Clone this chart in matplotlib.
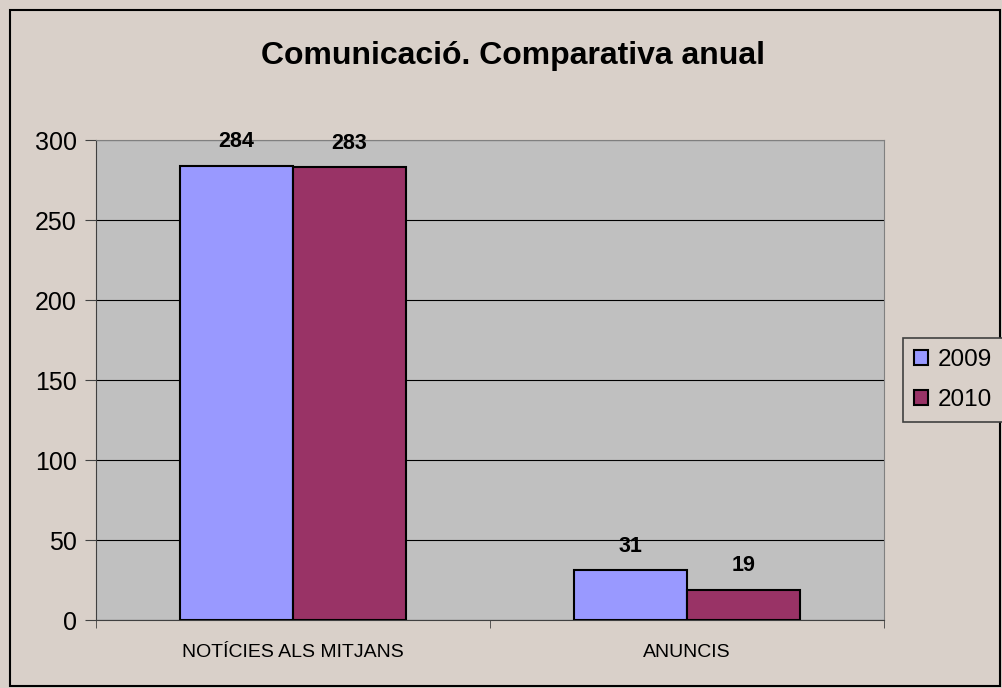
import numpy as np
from matplotlib import pyplot as plt
from matplotlib.patches import Rectangle

# dades
categories = ["NOTÍCIES ALS MITJANS", "ANUNCIS"]
series = ["2009", "2010"]
v2009 = [284, 31]
v2010 = [283, 19]
colors = ["#9999FF", "#993366"]

fig = plt.figure(figsize=(10.02, 6.88), dpi=100)
fig.patch.set_facecolor("#D9D0C9")
fig.patches.append(Rectangle((10 / 1002, 2 / 688), 990 / 1002, 676 / 688,
                             transform=fig.transFigure, fill=False,
                             edgecolor="black", linewidth=1.5))

ax = fig.add_axes([96 / 1002, 68 / 688, 788 / 1002, 480 / 688])
ax.set_facecolor("#C0C0C0")

x = np.arange(len(categories))
w = 0.287
for i, vals in enumerate([v2009, v2010]):
    b = ax.bar(x + (i - 0.5) * w, vals, w, color=colors[i], edgecolor="black",
               linewidth=1.5, label=series[i], zorder=3)
    for rect, v in zip(b, vals):
        ax.annotate(str(v), (rect.get_x() + rect.get_width() / 2, v),
                    xytext=(0, 17), textcoords="offset points",
                    ha="center", va="center", fontsize=15.5, fontweight="bold",
                    family="Liberation Sans")

ax.set_xlim(-0.5, 1.5)
ax.set_ylim(0, 300)
ax.set_yticks(np.arange(0, 301, 50))
ax.yaxis.grid(True, color="black", linewidth=0.8, zorder=1)
ax.set_axisbelow(True)
ax.set_xticks(x)
ax.set_xticklabels(categories, fontsize=14, family="Liberation Sans")
ax.tick_params(axis="x", which="major", length=0, pad=17)
ax.set_xticks([-0.5, 0.5, 1.5], minor=True)
ax.tick_params(axis="x", which="minor", length=6, direction="out", color="#404040")
ax.tick_params(axis="y", length=8, direction="out", labelsize=18, color="#404040", pad=6)
for lbl in ax.get_yticklabels():
    lbl.set_family("Liberation Sans")
for s in ["top", "right"]:
    ax.spines[s].set_color("#808080")
for s in ["left", "bottom"]:
    ax.spines[s].set_color("#404040")

fig.text(0.512, 1 - 56 / 688, "Comunicació. Comparativa anual", ha="center", va="center",
         fontsize=23, fontweight="bold", family="Liberation Sans")

leg = fig.legend(loc="center", bbox_to_anchor=(953 / 1002, 1 - 380 / 688),
                 prop={"family": "Liberation Sans", "size": 17.5}, fancybox=False,
                 edgecolor="#404040", facecolor="#D9D0C9", framealpha=1,
                 handlelength=0.6, handleheight=0.6, handletextpad=0.4,
                 borderpad=0.45, labelspacing=0.75, borderaxespad=0)
leg.get_frame().set_linewidth(1.2)

fig.savefig("out.png", dpi=100, facecolor=fig.get_facecolor())
